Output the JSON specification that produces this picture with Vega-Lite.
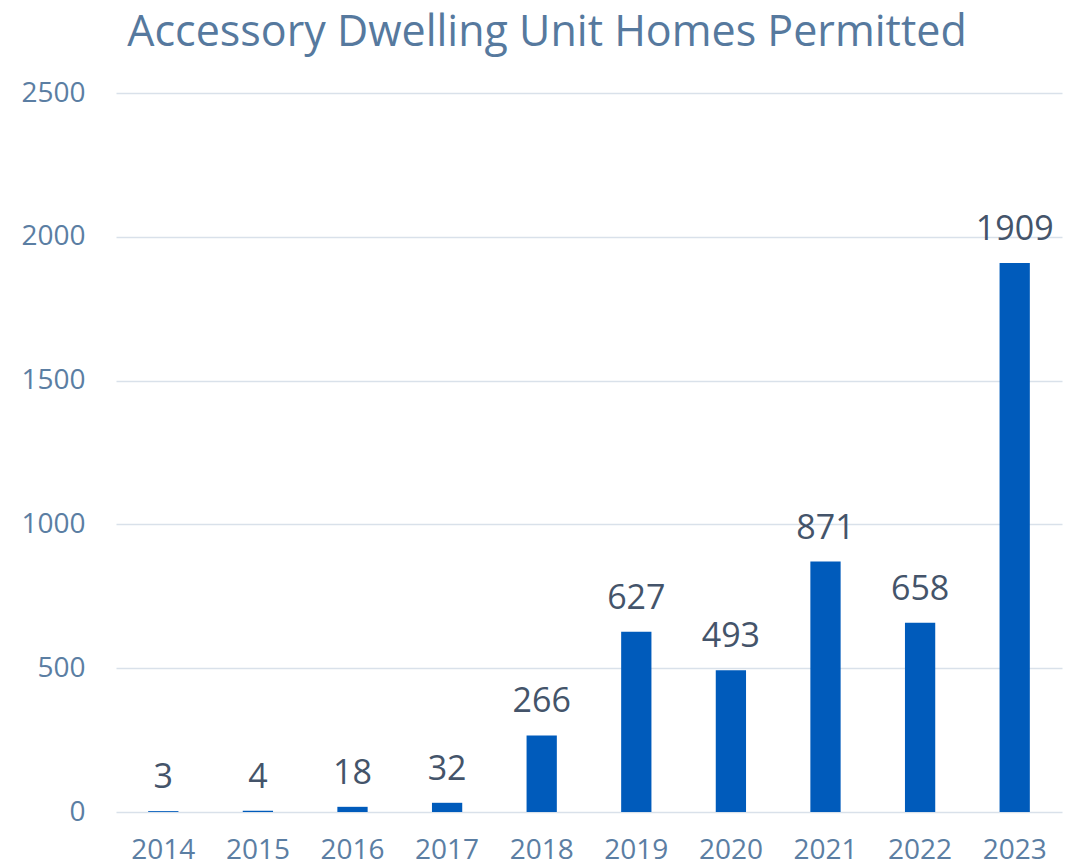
{
  "$schema": "https://vega.github.io/schema/vega-lite/v6.json",
  "width": 946,
  "height": 719,
  "autosize": {"type": "none"},
  "padding": {"left": 116, "top": 93, "right": 14, "bottom": 56},
  "background": "white",
  "title": {
    "text": "Accessory Dwelling Unit Homes Permitted",
    "font": "Open Sans",
    "fontSize": 43,
    "fontWeight": "normal",
    "color": "#56799e",
    "anchor": "middle",
    "dx": -42,
    "offset": 24
  },
  "data": {
    "values": [
      {"year": "2014", "homes": 3},
      {"year": "2015", "homes": 4},
      {"year": "2016", "homes": 18},
      {"year": "2017", "homes": 32},
      {"year": "2018", "homes": 266},
      {"year": "2019", "homes": 627},
      {"year": "2020", "homes": 493},
      {"year": "2021", "homes": 871},
      {"year": "2022", "homes": 658},
      {"year": "2023", "homes": 1909}
    ]
  },
  "config": {
    "view": {"stroke": null},
    "axis": {"labelFont": "Open Sans", "labelFontSize": 28, "labelColor": "#5b7ea3", "domain": false, "ticks": false, "title": null}
  },
  "encoding": {
    "x": {
      "field": "year",
      "type": "ordinal",
      "scale": {"paddingInner": 0.68, "paddingOuter": 0.34},
      "axis": {"labelAngle": 0, "labelPadding": 24, "grid": false}
    },
    "y": {
      "field": "homes",
      "type": "quantitative",
      "scale": {"domain": [0, 2500], "nice": false},
      "axis": {"values": [0, 500, 1000, 1500, 2000, 2500], "format": "d", "grid": true, "gridColor": "#d9e1ea", "gridWidth": 1.5, "labelPadding": 31}
    }
  },
  "layer": [
    {"mark": {"type": "bar", "color": "#005bbb"}},
    {
      "mark": {"type": "text", "font": "Open Sans", "fontSize": 34, "color": "#44546a", "baseline": "alphabetic", "dy": -23},
      "encoding": {"text": {"field": "homes", "type": "quantitative"}}
    }
  ]
}
